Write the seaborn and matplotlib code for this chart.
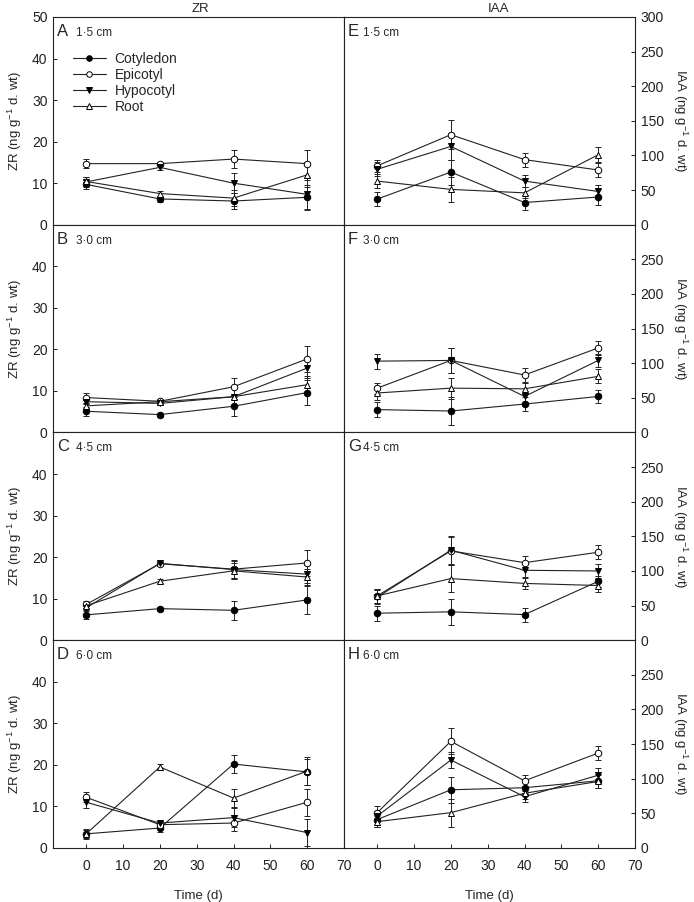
import matplotlib
matplotlib.use('Agg')
import matplotlib.pyplot as plt
import seaborn as sns

#%% data (mean, error bar half-length)
days = [0, 20, 40, 60]
organs = ['Cotyledon', 'Epicotyl', 'Hypocotyl', 'Root']
sizes = ['1·5 cm', '3·0 cm', '4·5 cm', '6·0 cm']
zr_letters = ['A', 'B', 'C', 'D']
iaa_letters = ['E', 'F', 'G', 'H']

# ZR (ng g-1 d. wt)
zr_15 = {'Cotyledon': [9.7, 6.2, 5.7, 6.6], 'Epicotyl': [14.7, 14.7, 15.8, 14.7],
         'Hypocotyl': [10.3, 13.8, 10.0, 7.3], 'Root': [10.4, 7.5, 6.4, 12.0]}
zr_15_err = {'Cotyledon': [1.0, 0.8, 2.0, 3.0], 'Epicotyl': [1.0, 0.5, 2.2, 3.3],
             'Hypocotyl': [1.3, 0.6, 2.4, 3.5], 'Root': [1.0, 0.7, 2.0, 3.0]}
zr_30 = {'Cotyledon': [5.1, 4.3, 6.3, 9.6], 'Epicotyl': [8.4, 7.5, 11.0, 17.7],
         'Hypocotyl': [7.4, 7.0, 8.6, 15.5], 'Root': [6.4, 7.4, 8.6, 11.5]}
zr_30_err = {'Cotyledon': [1.1, 0.5, 2.3, 3.0], 'Epicotyl': [1.2, 0.6, 2.1, 3.1],
             'Hypocotyl': [0.6, 0.5, 0.5, 2.5], 'Root': [0.6, 0.5, 0.5, 2.0]}
zr_45 = {'Cotyledon': [6.1, 7.6, 7.2, 9.7], 'Epicotyl': [8.6, 18.4, 17.1, 18.6],
         'Hypocotyl': [7.8, 18.5, 17.0, 15.9], 'Root': [8.3, 14.2, 16.7, 15.2]}
zr_45_err = {'Cotyledon': [1.1, 0.5, 2.3, 3.3], 'Epicotyl': [0.8, 0.5, 2.1, 3.2],
             'Hypocotyl': [0.8, 0.5, 2.0, 2.2], 'Root': [0.6, 0.5, 2.0, 2.0]}
zr_60 = {'Cotyledon': [3.4, 4.8, 20.2, 18.3], 'Epicotyl': [12.2, 5.6, 6.0, 11.0],
         'Hypocotyl': [11.0, 6.0, 7.3, 3.7], 'Root': [3.4, 19.5, 12.0, 18.5]}
zr_60_err = {'Cotyledon': [1.0, 1.0, 2.2, 3.2], 'Epicotyl': [1.2, 0.5, 2.0, 3.2],
             'Hypocotyl': [1.5, 0.5, 2.2, 3.2], 'Root': [1.2, 0.7, 2.2, 3.4]}

# IAA (ng g-1 d. wt)
iaa_15 = {'Cotyledon': [37, 76, 32, 40], 'Epicotyl': [85, 130, 94, 79],
          'Hypocotyl': [80, 113, 63, 48], 'Root': [63, 51, 46, 101]}
iaa_15_err = {'Cotyledon': [10, 18, 11, 11], 'Epicotyl': [9, 21, 10, 10],
              'Hypocotyl': [10, 20, 9, 10], 'Root': [10, 18, 8, 11]}
iaa_30 = {'Cotyledon': [33, 31, 41, 52], 'Epicotyl': [64, 104, 83, 122],
          'Hypocotyl': [103, 104, 52, 104], 'Root': [57, 64, 63, 81]}
iaa_30_err = {'Cotyledon': [11, 20, 10, 10], 'Epicotyl': [8, 18, 10, 10],
              'Hypocotyl': [11, 18, 8, 10], 'Root': [10, 15, 8, 10]}
iaa_45 = {'Cotyledon': [39, 41, 37, 85], 'Epicotyl': [64, 129, 112, 127],
          'Hypocotyl': [62, 130, 101, 100], 'Root': [64, 89, 82, 79]}
iaa_45_err = {'Cotyledon': [11, 19, 10, 8], 'Epicotyl': [10, 20, 10, 10],
              'Hypocotyl': [10, 20, 10, 10], 'Root': [10, 20, 8, 10]}
iaa_60 = {'Cotyledon': [41, 84, 87, 97], 'Epicotyl': [51, 154, 97, 137],
          'Hypocotyl': [46, 127, 74, 105], 'Root': [38, 51, 79, 96]}
iaa_60_err = {'Cotyledon': [10, 19, 8, 10], 'Epicotyl': [10, 19, 8, 10],
              'Hypocotyl': [8, 12, 8, 10], 'Root': [8, 20, 8, 10]}

zr_all = [(zr_15, zr_15_err), (zr_30, zr_30_err), (zr_45, zr_45_err), (zr_60, zr_60_err)]
iaa_all = [(iaa_15, iaa_15_err), (iaa_30, iaa_30_err), (iaa_45, iaa_45_err), (iaa_60, iaa_60_err)]

#%% style
sns.set_style('ticks')
plt.rcParams['font.family'] = ['Liberation Sans', 'DejaVu Sans']
plt.rcParams['mathtext.fontset'] = 'custom'
plt.rcParams['mathtext.rm'] = 'Liberation Sans'
plt.rcParams['mathtext.it'] = 'Liberation Sans:italic'
plt.rcParams['axes.linewidth'] = 0.8
plt.rcParams['axes.edgecolor'] = '#222222'

marker_style = {'Cotyledon': ('o', 'black'), 'Epicotyl': ('o', 'white'),
                'Hypocotyl': ('v', 'black'), 'Root': ('^', 'white')}

fig, axes = plt.subplots(4, 2, figsize=(6.94, 9.02), dpi=100)
fig.subplots_adjust(left=0.0764, right=0.915, top=0.9812, bottom=0.0599,
                    wspace=0, hspace=0)


def draw_panel(ax, means, errs):
    for org in organs:
        ax.errorbar(days, means[org], yerr=errs[org], fmt='none', ecolor='#222222',
                    elinewidth=0.7, capsize=2.2, capthick=0.7, zorder=2)
    for org in organs:
        m, fc = marker_style[org]
        sns.lineplot(x=days, y=means[org], ax=ax, color='#222222', lw=0.8,
                     marker=m, markersize=4.7 if m == 'o' else 5.0,
                     markerfacecolor=fc, markeredgecolor='black',
                     markeredgewidth=0.7, label=org, legend=False, zorder=3)


for i in range(4):
    axl = axes[i, 0]
    axr = axes[i, 1]
    draw_panel(axl, *zr_all[i])
    draw_panel(axr, *iaa_all[i])

    axl.set_ylim(0, 50)
    axl.set_yticks([0, 10, 20, 30, 40, 50] if i == 0 else [0, 10, 20, 30, 40])
    axl.set_ylabel(r'ZR (ng g$^{-1}$ d. wt)', fontsize=9.5, labelpad=6)

    axr.set_ylim(0, 300)
    axr.set_yticks([0, 50, 100, 150, 200, 250, 300] if i == 0 else [0, 50, 100, 150, 200, 250])
    axr.yaxis.tick_right()
    axr.yaxis.set_label_position('right')
    axr.set_ylabel(r'IAA (ng g$^{-1}$ d. wt)', fontsize=9.5, rotation=270, labelpad=18)

    for ax in (axl, axr):
        ax.set_xlim(-9, 70)
        ax.set_xticks([0, 10, 20, 30, 40, 50, 60, 70])
        ax.tick_params(direction='in', length=3, width=0.7, labelsize=10,
                       colors='#222222', pad=4)
        for s in ax.spines.values():
            s.set_visible(True)
        if i < 3:
            ax.tick_params(axis='x', bottom=False, labelbottom=False)
            ax.set_xlabel('')
        else:
            ax.tick_params(axis='x', pad=8)
            ax.set_xlabel('Time (d)', fontsize=9.5, labelpad=12)

    axl.text(0.014, 0.909, zr_letters[i], transform=axl.transAxes, fontsize=12, va='baseline')
    axl.text(0.079, 0.909, sizes[i], transform=axl.transAxes, fontsize=8.5, va='baseline')
    axr.text(0.014, 0.909, iaa_letters[i], transform=axr.transAxes, fontsize=12, va='baseline')
    axr.text(0.065, 0.909, sizes[i], transform=axr.transAxes, fontsize=8.5, va='baseline')

# legend only in panel A
h, l = axes[0, 0].get_legend_handles_labels()
axes[0, 0].legend(h, l, loc='upper left', bbox_to_anchor=(0.068, 0.832), frameon=False,
                  fontsize=10, handlelength=2.4, handletextpad=0.6, labelspacing=0.15,
                  borderpad=0, borderaxespad=0, markerscale=0.85)

fig.text(200 / 694, 1 - 9 / 902, 'ZR', ha='center', va='center', fontsize=9.5)
fig.text(498 / 694, 1 - 9 / 902, 'IAA', ha='center', va='center', fontsize=9.5)

plt.savefig('out.png', dpi=100)
